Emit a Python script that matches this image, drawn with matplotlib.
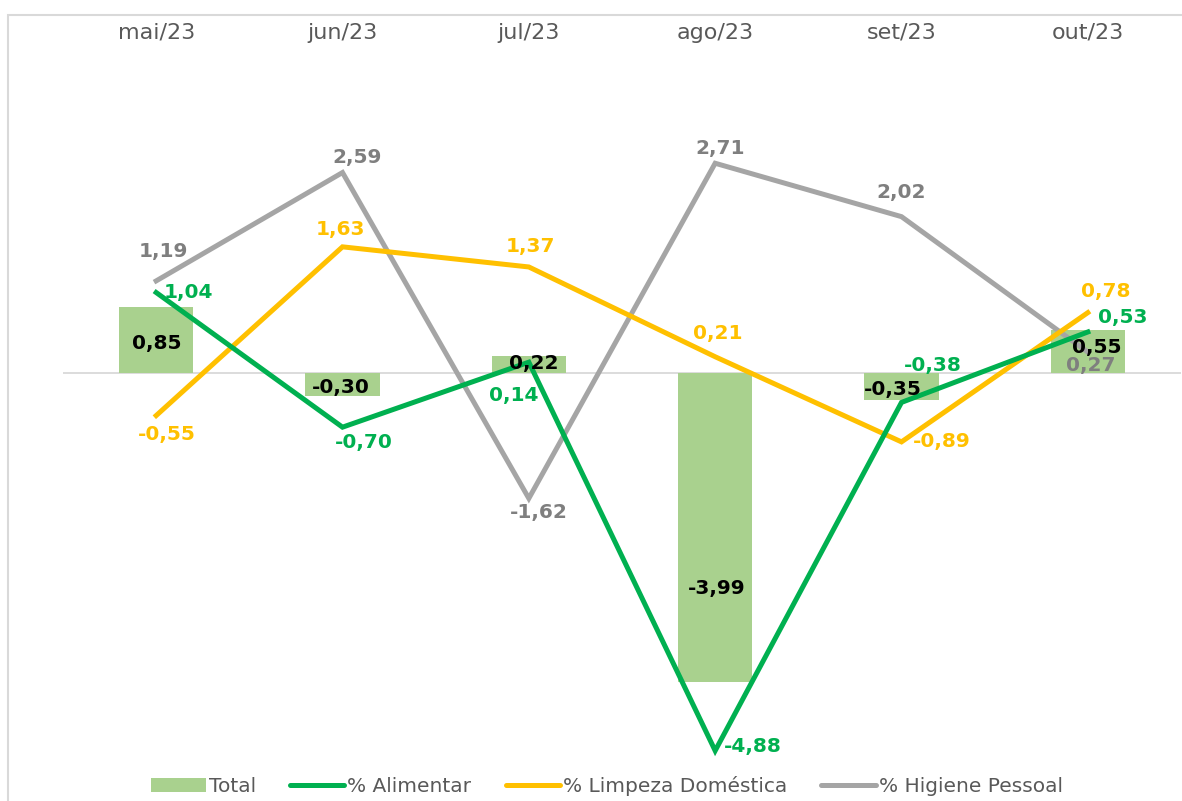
import matplotlib.pyplot as plt
from matplotlib.patches import Rectangle, Patch
from matplotlib.lines import Line2D
from matplotlib.transforms import blended_transform_factory

# data
months = ["mai/23", "jun/23", "jul/23", "ago/23", "set/23", "out/23"]
total = [0.85, -0.30, 0.22, -3.99, -0.35, 0.55]
alimentar = [1.04, -0.70, 0.14, -4.88, -0.38, 0.53]
limpeza = [-0.55, 1.63, 1.37, 0.21, -0.89, 0.78]
higiene = [1.19, 2.59, -1.62, 2.71, 2.02, 0.27]

# label offsets in pixels (dx, dy)
off_total = [(1, -3), (-2, -3), (5, 1), (2, -61), (-9, -3), (9, 4)]
off_alim = [(32, 0), (21, -15), (-15, -33), (38, 4), (31, 37), (35, 14)]
off_limp = [(11, -19), (-2, 17), (2, 20), (3, 23), (40, 0), (18, 21)]
off_hig = [(7, 29), (15, 15), (10, -14), (5, 15), (0, 24), (3, -13)]

c_bar = "#A9D18E"
c_alim = "#00B050"
c_limp = "#FFC000"
c_hig = "#A5A5A5"
c_text = "#595959"


def fmt(v):
    return "{:.2f}".format(v).replace(".", ",")


W, H = 1182, 801
fig = plt.figure(figsize=(W / 100, H / 100), dpi=100)

# axes placement in pixels
px_left, px_right = 63, 1181
px_top, px_bot = 50, 770
px_zero = 373
px_per_unit = 77.4

ax = fig.add_axes([px_left / W, 1 - px_bot / H,
                   (px_right - px_left) / W, (px_bot - px_top) / H])
ax.set_xlim(-0.5, len(months) - 0.5)
ax.set_ylim(-(px_bot - px_zero) / px_per_unit, (px_zero - px_top) / px_per_unit)
ax.axis("off")

x = list(range(len(months)))

ax.axhline(0, color="#D9D9D9", lw=1.3, zorder=1)
ax.bar(x, total, width=0.4, color=c_bar, zorder=2)

lw = 3.6
ax.plot(x, higiene, color=c_hig, lw=lw, zorder=3, solid_joinstyle="miter")
ax.plot(x, limpeza, color=c_limp, lw=lw, zorder=4, solid_joinstyle="miter")
ax.plot(x, alimentar, color=c_alim, lw=lw, zorder=5, solid_joinstyle="miter")

fs = 14.5
for series, offs, col, z in [(higiene, off_hig, "#7F7F7F", 6),
                             (limpeza, off_limp, c_limp, 7),
                             (alimentar, off_alim, c_alim, 8)]:
    for xi, v, (dx, dy) in zip(x, series, offs):
        ax.annotate(fmt(v), (xi, v), xytext=(dx, dy), textcoords="offset pixels",
                    ha="center", va="center", fontsize=fs, fontweight="bold",
                    color=col, zorder=z)

for xi, v, (dx, dy) in zip(x, total, off_total):
    ax.annotate(fmt(v), (xi, v / 2), xytext=(dx, dy), textcoords="offset pixels",
                ha="center", va="center", fontsize=fs, fontweight="bold",
                color="black", zorder=9)

# month labels on top
trans = blended_transform_factory(ax.transData, fig.transFigure)
for xi, m in zip(x, months):
    ax.text(xi, 1 - 33 / H, m, transform=trans, ha="center", va="center",
            fontsize=16, color=c_text)

# chart border
fig.add_artist(Rectangle((8 / W, -0.05), 1.1, 1.05 - 15 / H, transform=fig.transFigure,
                         fill=False, edgecolor="#D9D9D9", lw=1.5, clip_on=False))

handles = [
    Patch(facecolor=c_bar, edgecolor="none"),
    Line2D([], [], color=c_alim, lw=lw, solid_capstyle="round"),
    Line2D([], [], color=c_limp, lw=lw, solid_capstyle="round"),
    Line2D([], [], color=c_hig, lw=lw, solid_capstyle="round"),
]
labels = ["Total", "% Alimentar", "% Limpeza Doméstica", "% Higiene Pessoal"]
leg = fig.legend(handles, labels, ncol=4, loc="center",
                 bbox_to_anchor=(607 / W, 1 - 786 / H), frameon=False,
                 fontsize=14.5, handlelength=2.7, handletextpad=0.15,
                 columnspacing=1.7, borderpad=0)
for t in leg.get_texts():
    t.set_color(c_text)

fig.savefig("out.png", dpi=100)
